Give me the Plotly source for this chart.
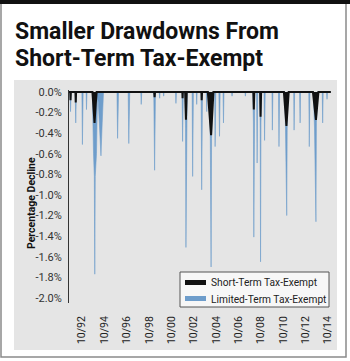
import plotly.graph_objects as go

# ---------------- data ----------------
limited_dates = [
    "1991-08-01",
    "1991-09-05", "1991-09-20", "1991-10-10",
    "1992-02-20", "1992-03-08", "1992-03-30",
    "1992-09-25", "1992-10-12", "1992-11-05",
    "1993-02-10", "1993-02-22", "1993-03-10",
    "1993-09-01", "1993-10-10", "1993-11-05", "1993-11-20", "1993-12-05", "1994-01-15",
    "1994-02-15", "1994-03-15", "1994-05-01", "1994-06-10", "1994-07-20", "1994-09-01",
    "1995-11-15", "1995-12-05", "1996-01-05",
    "1996-11-15", "1996-12-05", "1997-01-05",
    "1998-01-01", "1998-01-15", "1998-02-01",
    "1999-03-01", "1999-03-28", "1999-04-25",
    "1999-08-25", "1999-09-10", "1999-09-25",
    "2000-01-05", "2000-01-18", "2000-02-01",
    "2001-02-10", "2001-02-22", "2001-03-10",
    "2001-09-10", "2001-09-27", "2001-10-20",
    "2001-12-15", "2002-01-01", "2002-01-15", "2002-02-01", "2002-02-25",
    "2002-08-05", "2002-08-22", "2002-09-15",
    "2002-12-20", "2003-01-01", "2003-01-15",
    "2003-05-25", "2003-06-13", "2003-07-10",
    "2003-11-10", "2003-11-25", "2003-12-10",
    "2004-02-15", "2004-03-20", "2004-04-15", "2004-05-01", "2004-06-10",
    "2004-08-10", "2004-08-25", "2004-09-15",
    "2004-12-25", "2005-01-15", "2005-02-05",
    "2005-05-10", "2005-05-25", "2005-06-10",
    "2006-02-15", "2006-03-01", "2006-03-15",
    "2007-04-25", "2007-05-10", "2007-05-25",
    "2008-01-10", "2008-01-28", "2008-02-10", "2008-02-22", "2008-03-10",
    "2008-05-10", "2008-05-28", "2008-06-15",
    "2008-08-20", "2008-09-05", "2008-09-17", "2008-10-01", "2008-10-20",
    "2009-01-10", "2009-01-26", "2009-02-15",
    "2009-09-25", "2009-10-08", "2009-10-25",
    "2010-04-25", "2010-05-12", "2010-06-01",
    "2010-11-20", "2010-12-10", "2011-01-20", "2011-02-05", "2011-03-01",
    "2011-09-05", "2011-09-17", "2011-10-05",
    "2012-03-15", "2012-04-01", "2012-04-15",
    "2013-01-10", "2013-01-26", "2013-02-15",
    "2013-06-10", "2013-07-15", "2013-08-31", "2013-09-15", "2013-10-15",
    "2014-03-25", "2014-04-08", "2014-04-25",
    "2014-08-15", "2014-08-28", "2014-09-10",
    "2014-12-31",
]
limited_values = [
    0.0,
    0.0, -0.19, 0.0,
    0.0, -0.30, 0.0,
    0.0, -0.51, 0.0,
    0.0, -0.17, 0.0,
    0.0, -0.60, -0.82, -1.77, -0.82, -0.60,
    -0.05, -0.10, -0.45, -0.62, -0.30, 0.0,
    0.0, -0.45, 0.0,
    0.0, -0.50, 0.0,
    0.0, -0.12, 0.0,
    0.0, -0.76, 0.0,
    0.0, -0.06, 0.0,
    0.0, -0.04, 0.0,
    0.0, -0.11, 0.0,
    0.0, -0.48, 0.0,
    0.0, -0.35, -1.51, -0.30, 0.0,
    0.0, -0.82, 0.0,
    0.0, -0.12, 0.0,
    0.0, -0.95, 0.0,
    0.0, -0.19, 0.0,
    0.0, -0.45, -1.70, -0.45, 0.0,
    0.0, -0.53, 0.0,
    0.0, -0.43, 0.0,
    0.0, -0.30, 0.0,
    0.0, -0.04, 0.0,
    0.0, -0.04, 0.0,
    0.0, -0.30, -1.41, -0.25, 0.0,
    0.0, -0.69, 0.0,
    0.0, -0.35, -1.65, -0.30, 0.0,
    0.0, -0.47, 0.0,
    0.0, -0.37, 0.0,
    0.0, -0.53, 0.0,
    0.0, -0.35, -1.20, -0.30, 0.0,
    0.0, -0.37, 0.0,
    0.0, -0.30, 0.0,
    0.0, -0.53, 0.0,
    0.0, -0.35, -1.26, -0.30, 0.0,
    0.0, -0.30, 0.0,
    0.0, -0.07, 0.0,
    0.0,
]

short_dates = [
    "1991-08-01",
    "1991-09-10", "1991-09-20", "1991-10-01",
    "1992-02-28", "1992-03-08", "1992-03-20",
    "1993-09-05", "1993-10-20", "1993-11-12", "1993-12-20", "1994-01-20",
    "1999-03-15", "1999-03-28", "1999-04-10",
    "2001-09-20", "2001-09-27", "2001-10-05",
    "2001-12-20", "2002-01-15", "2002-02-10",
    "2003-06-05", "2003-06-13", "2003-06-25",
    "2004-01-01", "2004-04-15", "2004-07-01",
    "2008-01-25", "2008-02-10", "2008-02-25",
    "2008-09-05", "2008-09-17", "2008-10-05",
    "2010-10-20", "2011-01-10", "2011-03-25",
    "2013-05-25", "2013-08-31", "2013-11-20",
    "2014-12-31",
]
short_values = [
    0.0,
    0.0, -0.08, 0.0,
    0.0, -0.10, 0.0,
    0.0, -0.20, -0.30, -0.12, 0.0,
    0.0, -0.05, 0.0,
    0.0, -0.06, 0.0,
    0.0, -0.27, 0.0,
    0.0, -0.08, 0.0,
    0.0, -0.42, 0.0,
    0.0, -0.17, 0.0,
    0.0, -0.24, 0.0,
    0.0, -0.33, 0.0,
    0.0, -0.27, 0.0,
    0.0,
]

x_tick_dates = ["1992-10-01", "1994-10-01", "1996-10-01", "1998-10-01", "2000-10-01",
                "2002-10-01", "2004-10-01", "2006-10-01", "2008-10-01", "2010-10-01",
                "2012-10-01", "2014-10-01"]
x_tick_labels = ["10/92", "10/94", "10/96", "10/98", "10/00", "10/02",
                 "10/04", "10/06", "10/08", "10/10", "10/12", "10/14"]
y_tick_vals = [0.0, -0.2, -0.4, -0.6, -0.8, -1.0, -1.2, -1.4, -1.6, -1.8, -2.0]
y_tick_labels = ["0.0%", "-0.2%", "-0.4%", "-0.6%", "-0.8%", "-1.0%",
                 "-1.2%", "-1.4%", "-1.6%", "-1.8%", "-2.0%"]

series_names = ["Short-Term Tax-Exempt", "Limited-Term Tax-Exempt"]
title_lines = ["Smaller Drawdowns From", "Short-Term Tax-Exempt"]
y_title = "Percentage Decline"

# ---------------- layout geometry ----------------
W, H = 350, 361
L, R, T, B = 69, 19, 90, 58
PW, PH = W - L - R, H - T - B

def px(x):
    return (x - L) / PW

def py(y):
    return (H - B - y) / PH

FONT = "Roboto, Liberation Sans, sans-serif"
BLUE = "#6e9dcb"
BLACK = "#111111"
PANEL = "#e5e5e5"

fig = go.Figure()
fig.add_trace(go.Scatter(x=limited_dates, y=limited_values, mode="lines",
                         fill="tozeroy", fillcolor=BLUE,
                         line=dict(color=BLUE, width=0.6),
                         name=series_names[1], showlegend=False, hoverinfo="skip"))
fig.add_trace(go.Scatter(x=short_dates, y=short_values, mode="lines",
                         fill="tozeroy", fillcolor=BLACK,
                         line=dict(color=BLACK, width=2),
                         name=series_names[0], showlegend=False, hoverinfo="skip"))

shapes = [
    # outer frame
    dict(type="rect", xref="paper", yref="paper", x0=px(1), x1=px(346), y0=py(357), y1=py(2),
         line=dict(color="#8a8a8a", width=1.5), fillcolor="white", layer="below"),
    # gray panel
    dict(type="rect", xref="paper", yref="paper", x0=px(14), x1=px(337), y0=py(350), y1=py(80),
         line=dict(width=0), fillcolor=PANEL, layer="below"),
    # top black bar
    dict(type="rect", xref="paper", yref="paper", x0=px(0), x1=px(350), y0=py(4), y1=py(0),
         line=dict(width=0), fillcolor="#111111", layer="below"),
    # legend box
    dict(type="rect", xref="paper", yref="paper", x0=px(180), x1=px(329), y0=py(307), y1=py(272),
         line=dict(color="#555555", width=1), fillcolor="#f7f7f7", layer="above"),
    dict(type="rect", xref="paper", yref="paper", x0=px(185), x1=px(206), y0=py(285), y1=py(280),
         line=dict(width=0), fillcolor=BLACK, layer="above"),
    dict(type="rect", xref="paper", yref="paper", x0=px(185), x1=px(206), y0=py(301), y1=py(296),
         line=dict(width=0), fillcolor=BLUE, layer="above"),
]

annotations = [
    dict(text=title_lines[0], xref="paper", yref="paper", x=px(13), y=py(31.5),
         xanchor="left", yanchor="middle", showarrow=False,
         font=dict(family=FONT, size=23, color="#111111", weight="bold")),
    dict(text=title_lines[1], xref="paper", yref="paper", x=px(13), y=py(59),
         xanchor="left", yanchor="middle", showarrow=False,
         font=dict(family=FONT, size=23, color="#111111", weight="bold")),
    dict(text=y_title, xref="paper", yref="paper", x=px(31), y=py(203),
         xanchor="center", yanchor="middle", showarrow=False, textangle=-90,
         font=dict(family=FONT, size=10.5, color="#111111", weight="bold")),
    dict(text=series_names[0], xref="paper", yref="paper", x=px(209), y=py(282.5),
         xanchor="left", yanchor="middle", showarrow=False,
         font=dict(family=FONT, size=10.2, color="#222222")),
    dict(text=series_names[1], xref="paper", yref="paper", x=px(209), y=py(299),
         xanchor="left", yanchor="middle", showarrow=False,
         font=dict(family=FONT, size=10.2, color="#222222")),
]

fig.update_layout(
    width=W, height=H,
    margin=dict(l=L, r=R, t=T, b=B, pad=0),
    paper_bgcolor="white", plot_bgcolor="rgba(0,0,0,0)",
    showlegend=False,
    shapes=shapes, annotations=annotations,
    xaxis=dict(type="date", range=["1991-08-01", "2015-01-05"],
               tickvals=x_tick_dates, ticktext=x_tick_labels, tickangle=-90,
               showgrid=False, zeroline=False, showline=False, ticks="",
               ticklabelstandoff=10,
               tickfont=dict(family=FONT, size=10.5, color="#222222")),
    yaxis=dict(range=[-2.05, 0.02], tickvals=y_tick_vals, ticktext=y_tick_labels,
               showgrid=False, zeroline=False, showline=True, linecolor="#333333",
               linewidth=1, ticks="", ticklabelstandoff=4,
               tickfont=dict(family=FONT, size=11, color="#333333")),
)

fig.write_html("out.html")
